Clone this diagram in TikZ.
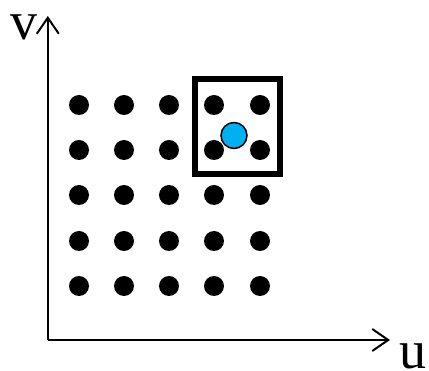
\documentclass[tikz,border=0pt]{standalone}
\usepackage{fontspec}
\setmainfont{Liberation Serif}
\usetikzlibrary{arrows.meta}
\begin{document}
\begin{tikzpicture}[x=1pt,y=-1pt,
  axis/.style={line width=2.4pt,-{Straight Barb[length=16pt,width=22pt,line width=2pt]}},
  gdot/.style={circle,fill=black,inner sep=0pt,minimum size=20pt},
  frame/.style={draw=black,line width=6pt},
  probe/.style={circle,fill={rgb,255:red,0;green,176;blue,240},draw=black,line width=1.5pt,inner sep=0pt,minimum size=26pt},
  lbl/.style={inner sep=0pt,font=\fontsize{54}{54}\selectfont}]
\useasboundingbox (0,0) rectangle (429,371);
\coordinate (o) at (47.8,340);
\coordinate (vt) at (47.8,16);
\coordinate (ut) at (390,340);
\draw[axis] (o) -- (vt);
\draw[axis] (o) -- (ut);
\node[lbl] (v) at (23.5,27) {v};
\node[lbl] (u) at (412.5,356) {u};
\foreach \i/\x in {1/79,2/124,3/169,4/214,5/260}
  \foreach \j/\y in {1/105,2/150,3/195,4/241,5/286}
    \node[gdot] (d\i\j) at (\x,\y) {};
\node[frame,minimum width=85pt,minimum height=95pt,inner sep=0pt] (box) at (237.5,126.5) {};
\node[probe] (p) at (234,135.5) {};
\end{tikzpicture}
\end{document}
